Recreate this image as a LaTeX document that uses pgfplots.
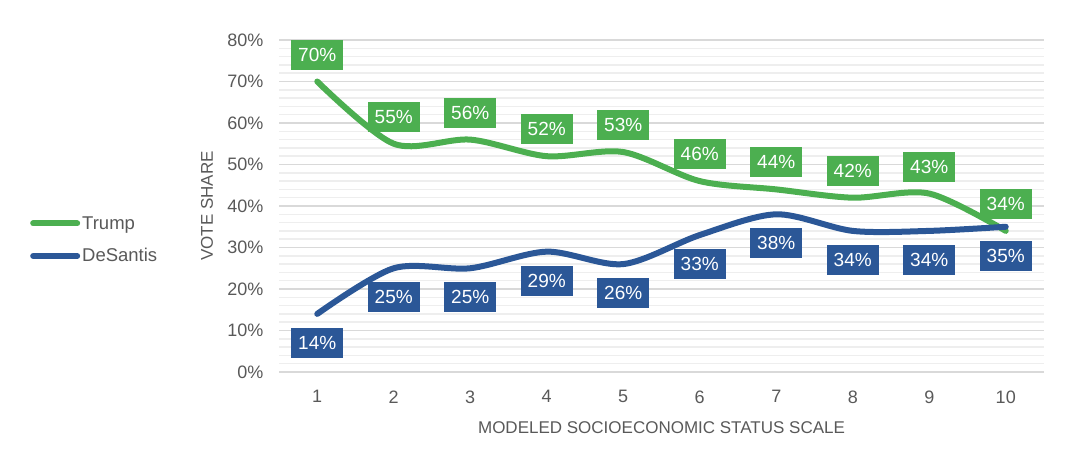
\documentclass[border=0pt]{standalone}
\usepackage{pgfplots}
\pgfplotsset{compat=1.18}
\usepackage{fontspec}
\setmainfont{Liberation Sans}
\definecolor{tgreen}{HTML}{4CAF50}
\definecolor{dblue}{HTML}{2B5797}
\definecolor{txt}{HTML}{595959}
\definecolor{majg}{HTML}{D9D9D9}
\definecolor{ming}{HTML}{EEEEEE}
\begin{document}
\begin{tikzpicture}
\useasboundingbox (0pt,0pt) rectangle (1068pt,458pt);
\begin{axis}[
  at={(279pt,86pt)}, anchor=south west,
  scale only axis, width=765pt, height=332pt,
  xmin=0.5, xmax=10.5, ymin=0, ymax=80,
  xtick={1,...,10}, ytick={0,10,...,80},
  minor y tick num=4,
  ymajorgrids, yminorgrids,
  major grid style={majg, line width=1.5pt},
  minor grid style={ming, line width=1.5pt},
  axis line style={draw=none},
  major tick length=0pt, minor tick length=0pt,
  tick label style={text=txt, font=\fontsize{18}{21}\selectfont},
  /pgf/number format/assume math mode=true,
  yticklabel={\pgfmathprintnumber{\tick}\%},
  yticklabel style={xshift=-12pt},
  xticklabel style={yshift=-15pt},
  xlabel={MODELED SOCIOECONOMIC STATUS SCALE},
  ylabel={VOTE SHARE},
  label style={text=txt, font=\fontsize{17}{20}\selectfont},
  xlabel style={at={(axis description cs:0.5,-0.169)}, anchor=center},
  ylabel style={at={(axis description cs:-0.094,0.5)}, anchor=center},
  clip=false,
  legend style={at={(axis description cs:-0.3255,0.398)}, anchor=west,
    draw=none, fill=none, text=txt, font=\fontsize{18.5}{21}\selectfont,
    row sep=14pt, inner sep=0pt},
  legend cell align=left,
  legend image code/.code={\draw[#1, line cap=round] (0pt,0pt) -- (44pt,0pt);},
]
\addlegendimage{tgreen, line width=6pt}
\addlegendentry{Trump}
\addlegendimage{dblue, line width=6pt}
\addlegendentry{DeSantis}

\addplot[tgreen, line width=6pt, smooth, line cap=round, forget plot,
  nodes near coords={\pgfmathprintnumber{\pgfplotspointmeta}\%},
  every node near coord/.append style={fill=tgreen, text=white,
    font=\fontsize{19}{21}\selectfont, anchor=center, yshift=27pt,
    inner xsep=7pt, minimum height=30pt, line width=0pt}]
  coordinates {(1,70)(2,55)(3,56)(4,52)(5,53)(6,46)(7,44)(8,42)(9,43)(10,34)};
\addplot[dblue, line width=6pt, smooth, line cap=round, forget plot,
  nodes near coords={\pgfmathprintnumber{\pgfplotspointmeta}\%},
  every node near coord/.append style={fill=dblue, text=white,
    font=\fontsize{19}{21}\selectfont, anchor=center, yshift=-29pt,
    inner xsep=7pt, minimum height=30pt, line width=0pt}]
  coordinates {(1,14)(2,25)(3,25)(4,29)(5,26)(6,33)(7,38)(8,34)(9,34)(10,35)};
\end{axis}
\end{tikzpicture}
\end{document}
